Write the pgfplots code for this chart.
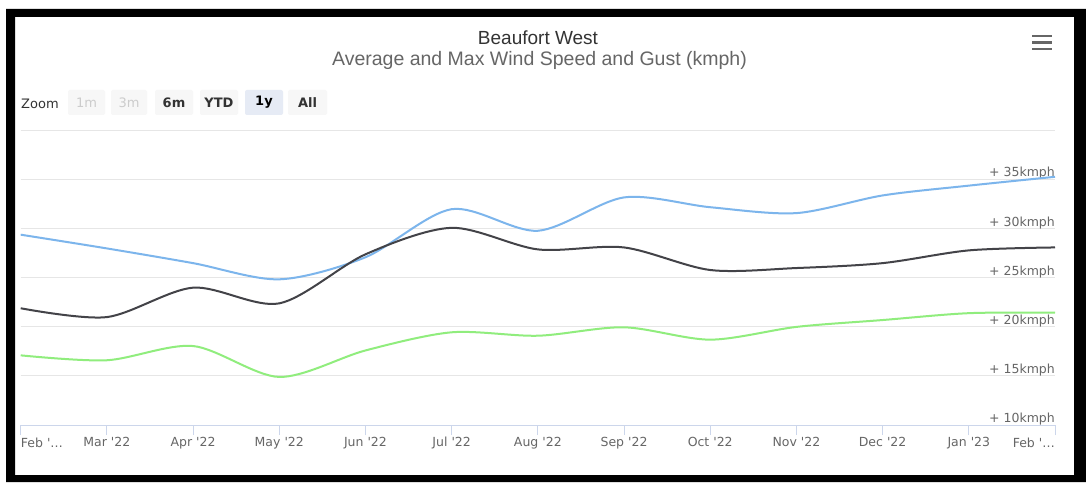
\documentclass[border=0pt]{standalone}
\usepackage{pgfplots}
\pgfplotsset{compat=1.18}
\usepackage{fontspec}
\setmainfont{Liberation Sans}
\newfontfamily\dv{DejaVu Sans}
\definecolor{hcblue}{HTML}{7CB5EC}
\definecolor{hcdark}{HTML}{434348}
\definecolor{hcgreen}{HTML}{90ED7D}
\definecolor{gridc}{HTML}{E6E6E6}
\definecolor{axisc}{HTML}{CCD6EB}
\definecolor{lab}{HTML}{666666}
\definecolor{ttl}{HTML}{333333}
\definecolor{btn}{HTML}{F7F7F7}
\definecolor{btnsel}{HTML}{E6EBF5}
\definecolor{btnoff}{HTML}{CCCCCC}
\newcommand\q{\textquotesingle}
\newcommand\tickfont{\dv\fontsize{12.5}{14}\selectfont}
\newcommand\btnfont{\dv\fontsize{13}{15}\selectfont}

\begin{document}
\begin{tikzpicture}[x=1pt,y=1pt]
\useasboundingbox (0,0) rectangle (1086,482);
\fill[white] (0,0) rectangle (1086,482);
% black frame of the screenshot
\fill[black,even odd rule] (6,0) rectangle (1086,473) (15,7) rectangle (1074,465);

% titles
\node[ttl,anchor=base,font=\fontsize{19}{22}\selectfont] at (538,437) {Beaufort West};
\node[lab,anchor=base,font=\fontsize{19.5}{22}\selectfont] at (539.5,416) {Average and Max Wind Speed and Gust (kmph)};

% menu icon
\foreach \yy in {446,439.5,433}
  \draw[lab,line width=2.5pt] (1032,\yy) -- (1052,\yy);

% range selector
\node[ttl,anchor=west,inner sep=0pt,font=\btnfont] at (21,378) {Zoom};
\fill[btn,rounded corners=2pt] (68,367) rectangle (105,392);
\node[btnoff,font=\btnfont] at (86.5,379.5) {1m};
\fill[btn,rounded corners=2pt] (111,367) rectangle (147,392);
\node[btnoff,font=\btnfont] at (129,379.5) {3m};
\fill[btn,rounded corners=2pt] (155,367) rectangle (193,392);
\node[ttl,font=\btnfont\bfseries] at (174,379.5) {6m};
\fill[btn,rounded corners=2pt] (200,367) rectangle (238,392);
\node[ttl,font=\btnfont\bfseries] at (219,379.5) {YTD};
\fill[btnsel,rounded corners=2pt] (245,367) rectangle (283,392);
\node[black,font=\btnfont\bfseries] at (264,379.5) {1y};
\fill[btn,rounded corners=2pt] (288,367) rectangle (327,392);
\node[ttl,font=\btnfont\bfseries] at (307.5,379.5) {All};

\begin{axis}[
  at={(20.7pt,57pt)}, anchor=south west,
  scale only axis, width=1034.3pt, height=294.3pt,
  xmin=0, xmax=12, ymin=10, ymax=40,
  axis line style={draw=none},
  clip=false,
  xtick={0,...,12},
  xticklabels={,Mar \q22,Apr \q22,May \q22,Jun \q22,Jul \q22,Aug \q22,Sep \q22,Oct \q22,Nov \q22,Dec \q22,Jan \q23,},
  xtick pos=left, tick align=outside,
  major tick length=10pt,
  x tick style={axisc, line width=1pt},
  xticklabel style={font=\tickfont, text=lab, inner sep=0pt, anchor=north, yshift=-2pt},
  ytick={10,15,...,40},
  yticklabels={+ 10kmph,+ 15kmph,+ 20kmph,+ 25kmph,+ 30kmph,+ 35kmph,},
  ytick pos=right, yticklabel pos=right,
  y tick style={draw=none},
  yticklabel style={font=\tickfont, text=lab, inner sep=0pt, anchor=south east, xshift=-10pt, yshift=0pt},
  ymajorgrids, y grid style={gridc, line width=1pt},
]
\draw[axisc, line width=1pt] (rel axis cs:0,0) -- (rel axis cs:1,0);
\node[lab, font=\tickfont, inner sep=0pt, anchor=north west, yshift=-13pt] at (rel axis cs:0,0) {Feb \q…};
\node[lab, font=\tickfont, inner sep=0pt, anchor=north east, yshift=-13pt] at (rel axis cs:1,0) {Feb \q…};

% max gust
\addplot[hcblue, line width=2pt, smooth, tension=0.5] coordinates {
(0,29.4) (1,28.0) (2,26.5) (3,24.85) (4,27.1) (5,32.0) (6,29.8)
(7,33.2) (8,32.2) (9,31.6) (10,33.4) (11,34.4) (12,35.3)};
% max wind speed
\addplot[hcdark, line width=2pt, smooth, tension=0.5] coordinates {
(0,21.9) (1,21.0) (2,24.0) (3,22.4) (4,27.4) (5,30.1) (6,27.9)
(7,28.1) (8,25.8) (9,26.0) (10,26.5) (11,27.8) (12,28.1)};
% average wind speed
\addplot[hcgreen, line width=2pt, smooth, tension=0.5] coordinates {
(0,17.1) (1,16.6) (2,18.05) (3,14.9) (4,17.6) (5,19.45) (6,19.1)
(7,19.96) (8,18.7) (9,20.0) (10,20.7) (11,21.4) (12,21.45)};
\end{axis}
\end{tikzpicture}
\end{document}
